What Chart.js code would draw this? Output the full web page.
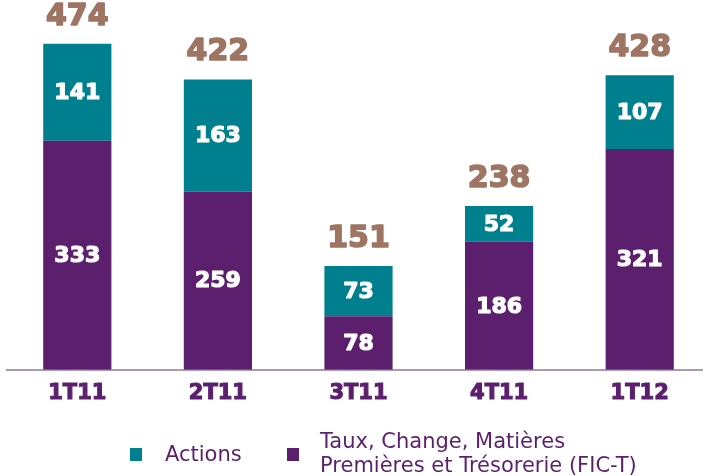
<!DOCTYPE html>
<html>
<head>
<meta charset="utf-8">
<script src="https://cdn.jsdelivr.net/npm/chart.js@4/dist/chart.umd.min.js"></script>
<style>
html,body{margin:0;padding:0;background:#fff;overflow:hidden;width:703px;height:476px;}
#wrap{position:absolute;left:0;top:0;width:710px;height:476px;}
.leg{position:absolute;font-family:"DejaVu Sans",sans-serif;font-size:21px;color:#5C1F6E;line-height:24px;white-space:nowrap;}
.sq{position:absolute;width:12px;height:13px;}
</style>
</head>
<body>
<div id="wrap"><canvas id="c" width="710" height="476"></canvas></div>
<div class="sq" style="left:130px;top:448px;background:#00808F"></div>
<div class="leg" style="left:165px;top:442px;">Actions</div>
<div class="sq" style="left:287px;top:448px;background:#5C1F6E"></div>
<div class="leg" style="left:320px;top:429px;">Taux, Change, Matières<br>Premières et Trésorerie (FIC-T)</div>
<script>
const categories = ["1T11", "2T11", "3T11", "4T11", "1T12"];
const ficT = [333, 259, 78, 186, 321];
const actions = [141, 163, 73, 52, 107];
const totals = [474, 422, 151, 238, 428];

function boldText(ctx, txt, x, y, color, lw) {
  ctx.fillStyle = color;
  ctx.strokeStyle = color;
  ctx.lineWidth = lw;
  ctx.lineJoin = 'round';
  ctx.strokeText(txt, x, y);
  ctx.fillText(txt, x, y);
}

const labelPlugin = {
  id: 'labels',
  afterDatasetsDraw(chart) {
    const ctx = chart.ctx;
    ctx.save();
    ctx.textAlign = 'center';
    ctx.textBaseline = 'middle';
    ctx.font = 'bold 22px "DejaVu Sans"';
    chart.data.datasets.forEach((ds, di) => {
      const meta = chart.getDatasetMeta(di);
      meta.data.forEach((el, i) => {
        boldText(ctx, String(ds.data[i]), el.x, (el.y + el.base) / 2 + 1, '#ffffff', 1.2);
      });
    });
    const top = chart.getDatasetMeta(1);
    ctx.font = 'bold 30px "DejaVu Sans"';
    top.data.forEach((el, i) => {
      boldText(ctx, String(totals[i]), el.x, el.y - 27, '#9E7563', 1.6);
    });
    ctx.restore();
  }
};

new Chart(document.getElementById('c'), {
  type: 'bar',
  data: {
    labels: categories,
    datasets: [
      { label: 'Taux, Change, Matières Premières et Trésorerie (FIC-T)', data: ficT, backgroundColor: '#5C1F6E', barPercentage: 0.485, categoryPercentage: 1 },
      { label: 'Actions', data: actions, backgroundColor: '#00808F', barPercentage: 0.485, categoryPercentage: 1 }
    ]
  },
  options: {
    responsive: false,
    animation: false,
    devicePixelRatio: 1,
    layout: { padding: { left: 7, right: 0, top: 10, bottom: 59 } },
    plugins: { legend: { display: false }, tooltip: { enabled: false } },
    scales: {
      x: {
        stacked: true,
        grid: { display: false, drawTicks: false },
        border: { display: true, color: '#A99BB5', width: 2 },
        ticks: { color: '#5C1F6E', font: { family: 'DejaVu Sans', size: 21, weight: 'bold' }, padding: 11, textStrokeColor: '#5C1F6E', textStrokeWidth: 1.1 }
      },
      y: {
        stacked: true,
        display: false,
        min: 0,
        max: 523
      }
    }
  },
  plugins: [labelPlugin]
});
</script>
</body>
</html>
